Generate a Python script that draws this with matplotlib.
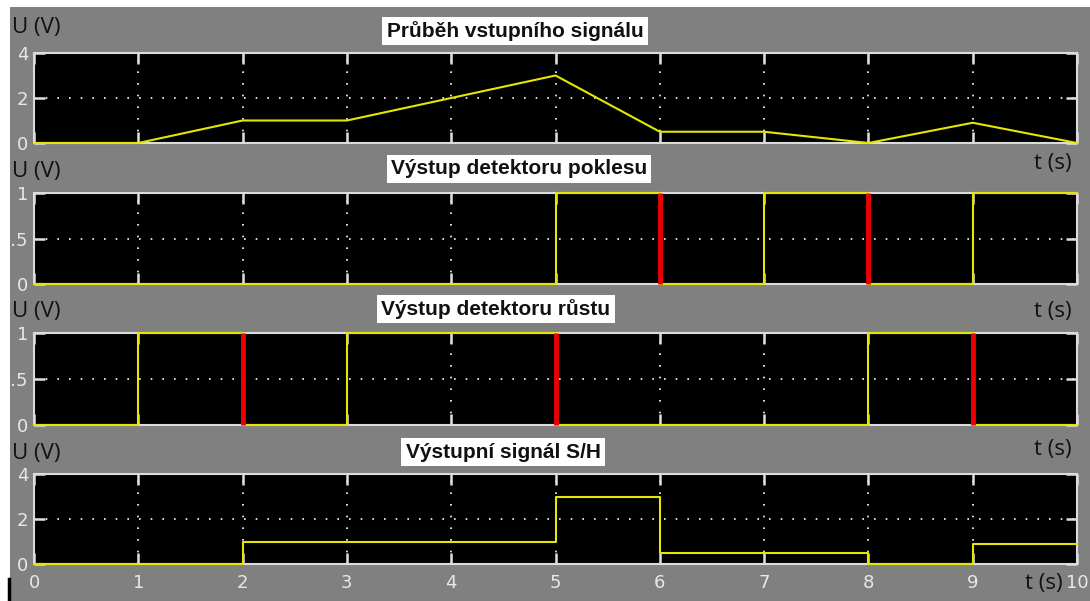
import numpy as np
import matplotlib
matplotlib.use("Agg")
import matplotlib.pyplot as plt
from matplotlib.patches import Rectangle
from matplotlib.lines import Line2D

# input signal (piecewise linear)
t_in = [0, 1, 2, 3, 5, 6, 7, 8, 9, 10]
u_in = [0, 0, 1, 1, 3, 0.5, 0.5, 0, 0.9, 0]

# detector outputs (step, value holds from t to next t)
t_det = [0, 1, 2, 3, 4, 5, 6, 7, 8, 9, 10]
pokles = [0, 0, 0, 0, 0, 1, 0, 1, 0, 1, 1]
rust = [0, 1, 0, 1, 1, 0, 0, 0, 1, 0, 0]
pokles_red = [6, 8]
rust_red = [2, 5, 9]

# sample & hold output
t_sh = [0, 2, 5, 6, 8, 9, 10]
u_sh = [0, 1, 3, 0.5, 0, 0.9, 0.9]

titles = ["Průběh vstupního signálu", "Výstup detektoru poklesu",
          "Výstup detektoru růstu", "Výstupní signál S/H"]

W, H = 1090, 601
fig = plt.figure(figsize=(W / 100, H / 100), dpi=100)
fig.patch.set_facecolor("white")
fig.add_artist(Rectangle((10 / W, 0), 1 - 10 / W, 1 - 7 / H, transform=fig.transFigure,
                         facecolor="#808080", edgecolor="none", zorder=-10))

yellow = "#e6e600"
red = "#ee0000"
tickc = "#e8e8e8"

# panel pixel extents (top, bottom)
rows = [(53, 143), (193, 284), (333, 425), (474, 564)]
axes = []
for top, bot in rows:
    ax = fig.add_axes([34 / W, 1 - bot / H, 1043 / W, (bot - top) / H])
    ax.set_facecolor("black")
    for s in ax.spines.values():
        s.set_color("#dcdcdc")
        s.set_linewidth(1.5)
    ax.set_xlim(0, 10)
    ax.set_xticks(range(11))
    ax.tick_params(direction="in", length=8, width=1.8, color="#e0e0e0",
                   top=True, right=True, labelcolor=tickc, labelsize=13, pad=4)
    ax.grid(True, color="white", linestyle=(0, (1, 6)), linewidth=1.2)
    axes.append(ax)

ax1, ax2, ax3, ax4 = axes
ax1.plot(t_in, u_in, color=yellow, lw=1.5, clip_on=False, zorder=3)
ax2.step(t_det, pokles, where="post", color=yellow, lw=1.5, clip_on=False, zorder=3)
ax3.step(t_det, rust, where="post", color=yellow, lw=1.5, clip_on=False, zorder=3)
ax4.step(t_sh, u_sh, where="post", color=yellow, lw=1.5, clip_on=False, zorder=3)
ax2.vlines(pokles_red, 0, 1, color=red, lw=3.5, zorder=4, clip_on=False)
ax3.vlines(rust_red, 0, 1, color=red, lw=3.5, zorder=4, clip_on=False)

for ax in (ax1, ax4):
    ax.set_ylim(0, 4)
    ax.set_yticks([0, 2, 4])
for ax in (ax2, ax3):
    ax.set_ylim(0, 1)
    ax.set_yticks([0, 0.5, 1])
    ax.set_yticklabels(["0", "0.5", "1"])
for ax in (ax1, ax2, ax3):
    ax.tick_params(labelbottom=False)
ax4.tick_params(axis="x", pad=7)

# titles in white boxes
title_pos = [(515, 31), (519, 169), (496, 309), (503, 452)]
for txt, (x, y) in zip(titles, title_pos):
    fig.text(x / W, 1 - y / H, txt, ha="center", va="center", fontsize=15,
             fontweight="bold", family="Liberation Sans", color="#111111",
             bbox=dict(facecolor="white", edgecolor="none", pad=3))

# axis unit labels
for y in [27, 171, 312, 454]:
    fig.text(12 / W, 1 - y / H, "U (V)", ha="left", va="center", fontsize=16,
             family="Open Sans", color="#111111")
for y in [163, 311, 450, 583]:
    x = 1072 if y != 583 else 1063
    fig.text(x / W, 1 - y / H, "t (s)", ha="right", va="center", fontsize=16,
             family="Open Sans", color="#111111")

# white strip over the left edge, artifact bar
fig.add_artist(Rectangle((0, 0), 10 / W, 1, transform=fig.transFigure,
                         facecolor="white", edgecolor="none", zorder=20))
fig.add_artist(Line2D([8.5 / W, 8.5 / W], [0, 1 - 579 / H], transform=fig.transFigure,
                      color="black", lw=2.5, zorder=21))

fig.savefig("out.png", dpi=100, facecolor=fig.get_facecolor())
